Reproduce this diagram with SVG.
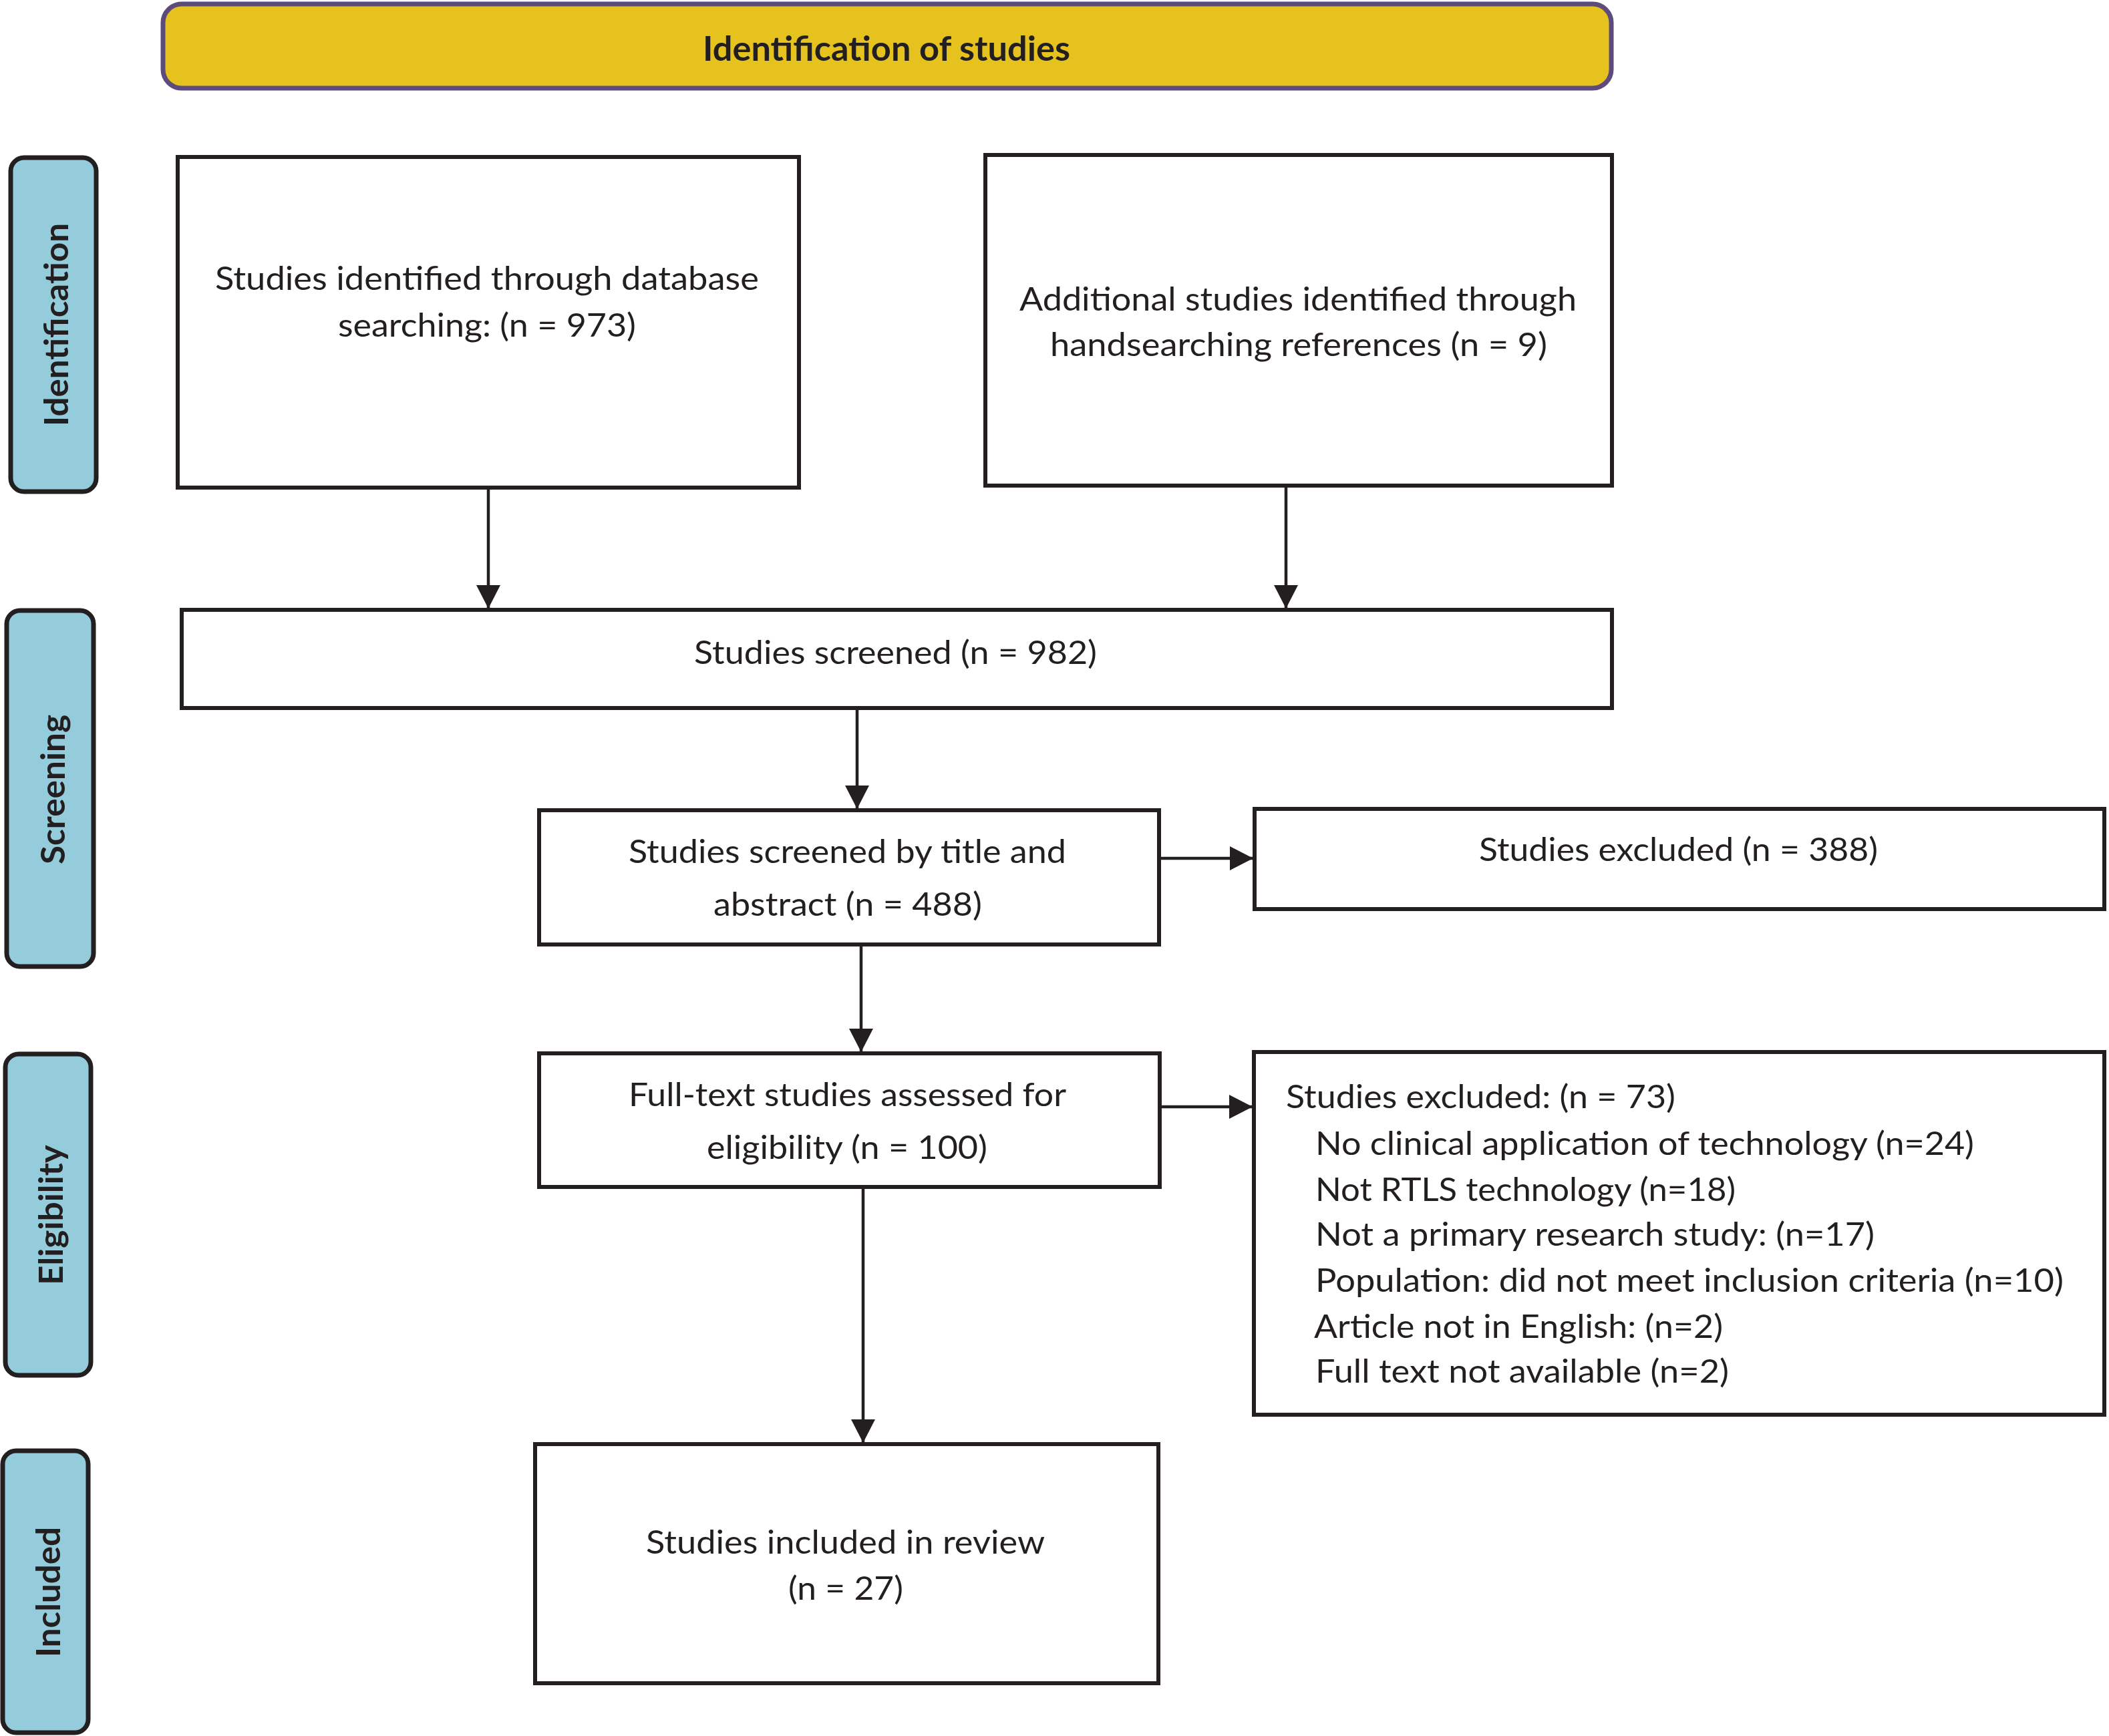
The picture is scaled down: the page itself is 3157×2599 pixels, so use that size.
<svg xmlns="http://www.w3.org/2000/svg" width="3157" height="2599" viewBox="0 0 3157 2599">
<defs>
<style>
.box{fill:#ffffff;stroke:#231f20;stroke-width:6}
.side{fill:#94ccdc;stroke:#231f20;stroke-width:7}
.hdr{fill:#e5c21e;stroke:#5d4b7c;stroke-width:7}
.t{font-family:Lato,"Open Sans","Liberation Sans",sans-serif;font-size:49px;fill:#231f20}
.tb{font-family:Lato,"Open Sans","Liberation Sans",sans-serif;font-weight:bold;fill:#231f20}
.conn line{stroke:#231f20;stroke-width:4.5;fill:none}
</style>
<marker id="ah" viewBox="0 0 35 36" refX="35" refY="18" markerWidth="35" markerHeight="36" markerUnits="userSpaceOnUse" orient="auto">
<path d="M0,0 L35,18 L0,36 Z" fill="#231f20"/>
</marker>
</defs>
<rect width="3157" height="2599" fill="#ffffff"/>

<g id="header">
<rect class="hdr" x="244" y="6" width="2168" height="126" rx="28" ry="28"/>
<text class="tb" x="1052" y="91" font-size="52" textLength="550" lengthAdjust="spacingAndGlyphs">Identification of studies</text>
</g>

<g id="label-identification">
<rect class="side" x="16" y="236" width="128" height="500" rx="20" ry="20"/>
<text class="tb" font-size="49" transform="translate(102,638) rotate(-90)" textLength="304" lengthAdjust="spacingAndGlyphs">Identification</text>
</g>
<g id="label-screening">
<rect class="side" x="10" y="914" width="130" height="533" rx="20" ry="20"/>
<text class="tb" font-size="49" transform="translate(97,1294) rotate(-90)" textLength="224" lengthAdjust="spacingAndGlyphs">Screening</text>
</g>
<g id="label-eligibility">
<rect class="side" x="8" y="1578" width="128" height="481" rx="20" ry="20"/>
<text class="tb" font-size="49" transform="translate(94,1924) rotate(-90)" textLength="210" lengthAdjust="spacingAndGlyphs">Eligibility</text>
</g>
<g id="label-included">
<rect class="side" x="4" y="2172" width="128" height="422" rx="20" ry="20"/>
<text class="tb" font-size="49" transform="translate(90,2481) rotate(-90)" textLength="195" lengthAdjust="spacingAndGlyphs">Included</text>
</g>

<g id="db-search">
<rect class="box" x="266" y="235" width="930" height="495"/>
<text class="t" x="322" y="434" textLength="814" lengthAdjust="spacingAndGlyphs">Studies identified through database</text>
<text class="t" x="506" y="504" textLength="446" lengthAdjust="spacingAndGlyphs">searching: (n = 973)</text>
</g>

<g id="handsearch">
<rect class="box" x="1475" y="232" width="938" height="495"/>
<text class="t" x="1526" y="465" textLength="834" lengthAdjust="spacingAndGlyphs">Additional studies identified through</text>
<text class="t" x="1572" y="533" textLength="744" lengthAdjust="spacingAndGlyphs">handsearching references (n = 9)</text>
</g>

<g id="screened">
<rect class="box" x="272" y="913" width="2141" height="147"/>
<text class="t" x="1039" y="994" textLength="603" lengthAdjust="spacingAndGlyphs">Studies screened (n = 982)</text>
</g>

<g id="title-abstract">
<rect class="box" x="807" y="1213" width="928" height="201"/>
<text class="t" x="941" y="1292" textLength="655" lengthAdjust="spacingAndGlyphs">Studies screened by title and</text>
<text class="t" x="1068" y="1371" textLength="402" lengthAdjust="spacingAndGlyphs">abstract (n = 488)</text>
</g>

<g id="excluded-388">
<rect class="box" x="1878" y="1211" width="1272" height="150"/>
<text class="t" x="2214" y="1289" textLength="597" lengthAdjust="spacingAndGlyphs">Studies excluded (n = 388)</text>
</g>

<g id="fulltext">
<rect class="box" x="807" y="1577" width="929" height="200"/>
<text class="t" x="941" y="1656" textLength="655" lengthAdjust="spacingAndGlyphs">Full-text studies assessed for</text>
<text class="t" x="1058" y="1735" textLength="420" lengthAdjust="spacingAndGlyphs">eligibility (n = 100)</text>
</g>

<g id="excluded-73">
<rect class="box" x="1877" y="1575" width="1273" height="543"/>
<text class="t" x="1925" y="1659" textLength="583" lengthAdjust="spacingAndGlyphs">Studies excluded: (n = 73)</text>
<text class="t" x="1969" y="1729" textLength="986" lengthAdjust="spacingAndGlyphs">No clinical application of technology (n=24)</text>
<text class="t" x="1969" y="1798" textLength="629" lengthAdjust="spacingAndGlyphs">Not RTLS technology (n=18)</text>
<text class="t" x="1969" y="1865" textLength="837" lengthAdjust="spacingAndGlyphs">Not a primary research study: (n=17)</text>
<text class="t" x="1969" y="1934" textLength="1120" lengthAdjust="spacingAndGlyphs">Population: did not meet inclusion criteria (n=10)</text>
<text class="t" x="1967" y="2003" textLength="612" lengthAdjust="spacingAndGlyphs">Article not in English: (n=2)</text>
<text class="t" x="1969" y="2070" textLength="619" lengthAdjust="spacingAndGlyphs">Full text not available (n=2)</text>
</g>

<g id="included">
<rect class="box" x="801" y="2162" width="933" height="358"/>
<text class="t" x="967" y="2326" textLength="597" lengthAdjust="spacingAndGlyphs">Studies included in review</text>
<text class="t" x="1180" y="2395" textLength="172" lengthAdjust="spacingAndGlyphs">(n = 27)</text>
</g>

<g id="connectors" class="conn">
<line x1="731" y1="733" x2="731" y2="911" marker-end="url(#ah)"/>
<line x1="1925" y1="730" x2="1925" y2="911" marker-end="url(#ah)"/>
<line x1="1283" y1="1063" x2="1283" y2="1211" marker-end="url(#ah)"/>
<line x1="1289" y1="1417" x2="1289" y2="1575" marker-end="url(#ah)"/>
<line x1="1292" y1="1780" x2="1292" y2="2160" marker-end="url(#ah)"/>
<line x1="1738" y1="1285" x2="1876" y2="1285" marker-end="url(#ah)"/>
<line x1="1739" y1="1657" x2="1875" y2="1657" marker-end="url(#ah)"/>
</g>
</svg>
